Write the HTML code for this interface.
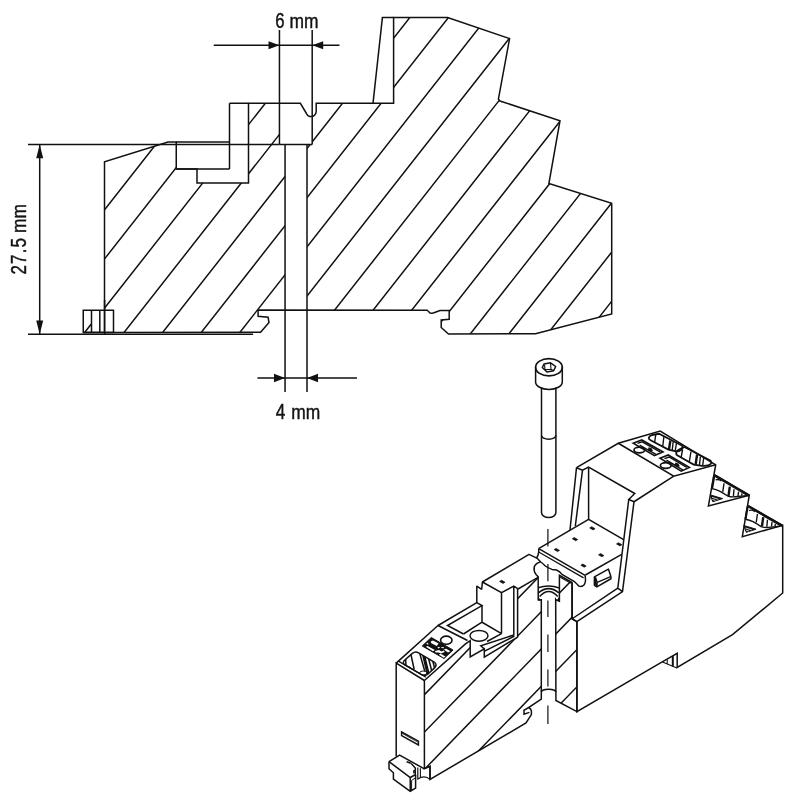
<!DOCTYPE html>
<html><head><meta charset="utf-8"><style>
html,body{margin:0;padding:0;background:#fff;}
svg{display:block}
.l{fill:none;stroke:#111;stroke-width:1.5;stroke-linejoin:miter;stroke-linecap:butt}
.w{fill:#fff;stroke:#111;stroke-width:1.4;stroke-linejoin:round}
.t{font-family:"Liberation Sans",sans-serif;font-size:20px;fill:#111;stroke:#111;stroke-width:.45;}
.d{font-size:22px}
</style></head><body>
<svg width="800" height="800" viewBox="0 0 800 800">
<rect width="800" height="800" fill="#fff"/>

<defs><clipPath id="bc"><polygon points="104.5,332.5 104.5,161.75 168,142 176.25,142 176.25,169 197,169 197,183 248.5,183 248.5,103.3 300.4,103.3 306.7,114 308,115.6 309.6,116.4 311.3,116.6 313,116.3 314.6,115.2 315.8,113.4 316.2,111.5 316.2,103.3 393.6,103.3 393.6,17.6 447.6,17.6 509.6,38.6 498.4,99 500,101 560,120.7 548.9,183.5 611.7,203.2 611.7,314 535.5,333.8 448.5,334 441.2,327.5 441.2,320 449.2,319.2 449.2,310.5 440,310.5 434,312.8 432,313.3 430,313 428.5,311.5 427.2,310.3 258.1,310 258.1,316.25 268.1,317.25 269,322.5 260.6,332.3"/></clipPath></defs>
<g clip-path="url(#bc)"><path d="M-46.10 352.50L230.59 0.00M-7.50 352.50L269.19 0.00M31.10 352.50L307.79 0.00M69.70 352.50L346.39 0.00M108.30 352.50L384.99 0.00M146.90 352.50L423.59 0.00M185.50 352.50L462.19 0.00M224.10 352.50L500.79 0.00M262.70 352.50L539.39 0.00M301.30 352.50L577.99 0.00M339.90 352.50L616.59 0.00M378.50 352.50L655.19 0.00M417.10 352.50L693.79 0.00M455.70 352.50L732.39 0.00M494.30 352.50L770.99 0.00M532.90 352.50L809.59 0.00M571.50 352.50L848.19 0.00M610.10 352.50L886.79 0.00M648.70 352.50L925.39 0.00M687.30 352.50L963.99 0.00" class="l"/></g>
<!-- white overlays -->
<rect x="279.45" y="104.2" width="32.75" height="40.2" fill="#fff"/>
<rect x="285.05" y="144" width="22.15" height="170" fill="#fff"/>
<!-- outline -->
<polygon points="104.5,332.5 104.5,161.75 168,142 176.25,142 176.25,169 197,169 197,183 248.5,183 248.5,103.3 300.4,103.3 306.7,114 308,115.6 309.6,116.4 311.3,116.6 313,116.3 314.6,115.2 315.8,113.4 316.2,111.5 316.2,103.3 393.6,103.3 393.6,17.6 447.6,17.6 509.6,38.6 498.4,99 500,101 560,120.7 548.9,183.5 611.7,203.2 611.7,314 535.5,333.8 448.5,334 441.2,327.5 441.2,320 449.2,319.2 449.2,310.5 440,310.5 434,312.8 432,313.3 430,313 428.5,311.5 427.2,310.3 258.1,310 258.1,316.25 268.1,317.25 269,322.5 260.6,332.3" class="l"/>
<!-- step pieces -->
<path d="M229.5 103.3H248.5M229.5 103.3V169M176.25 169H229.5M176.25 142H229.5" class="l"/>
<!-- wall -->
<path d="M393.6 17.6H382.4L373 103.3" class="l"/>
<!-- ext lines 6mm -->
<path d="M279.45 30V144.4M312.2 30V144.4M279.45 144.4H312.2" class="l"/>
<path d="M213.75 45.25H339.5" class="l"/>
<path d="M279.45 45.25L268.5 41.2V49.3ZM312.2 45.25L323.2 41.2V49.3Z" fill="#111"/>
<!-- hole lines -->
<path d="M285.05 144.4V392M307.0 144.4V392" class="l"/>
<!-- 4mm dim -->
<path d="M257.4 378H357" class="l"/>
<path d="M285.05 378L274 373.8V382.2ZM307 378L318 373.8V382.2Z" fill="#111"/>
<!-- 27.5 dim -->
<path d="M28 144.4H279.45M28 334.25H253.1" class="l"/>
<path d="M39.7 144.4V334.25" class="l"/>
<path d="M39.7 144.4L36.2 158.2H43.2ZM39.7 334.25L36.2 320.5H43.2Z" fill="#111"/>
<!-- small rect -->
<rect x="83.25" y="310.25" width="30.25" height="22.2" fill="#fff" class="l"/>
<path d="M91.5 310.25V332.4M99.8 310.25V332.4M104.6 300V334.25M85 332L91.5 323.7" class="l"/>
<path d="M83.25 332.45H104.5" class="l"/>
<g opacity="0.99">
<text transform="translate(275.2,27.7) scale(0.76,1)" class="t d">6</text>
<text transform="translate(289.6,27.7) scale(0.87,1)" class="t">mm</text>
<text transform="translate(275.8,418.6) scale(0.78,1)" class="t d">4</text>
<text transform="translate(291.3,418.6) scale(0.87,1)" class="t">mm</text>
<text transform="translate(26.1,274.5) rotate(-90) scale(0.77,1)" class="t d" style="letter-spacing:1.5px">27.5</text>
<text transform="translate(26.1,233) rotate(-90) scale(0.87,1)" class="t">mm</text>
</g>


<!-- ============ ISO SECTION ============ -->
<defs><clipPath id="ic"><polygon points="424.4,680.5 465.5,643.9 470.2,640.7 470.2,656.9 484.3,648.8 484.3,657.2 517.6,637.1 517.6,589.3 538.2,577.2 538.2,599.8 541.3,599.7 541.3,699.0 528.6,707.6 530.4,708.8 531.4,711.0 531.4,714.6 526.0,723.0 430.0,779.4 430.0,766.3 424.4,768.6"/><polygon points="555.7,599.5 555.9,599.8 559.4,601.2 559.4,575.4 572.0,582.5 572.0,618.8 576.9,621.6 576.9,711.6 555.9,700.5"/></clipPath></defs>
<g clip-path="url(#ic)"><path d="M400 719.9L620 493.3M400 757.2L620 530.6M400 794.5L620 567.9M400 831.8L620 605.2M400 869.1L620 642.5M400 906.4L620 679.8M400 943.7L620 717.1M400 981.0L620 754.4" class="l"/></g>
<polygon points="424.4,680.5 465.5,643.9 470.2,640.7 470.2,656.9 484.3,648.8 484.3,657.2 517.6,637.1 517.6,589.3 538.2,577.2 538.2,599.8 541.3,599.7 541.3,699.0 528.6,707.6 530.4,708.8 531.4,711.0 531.4,714.6 526.0,723.0 430.0,779.4 430.0,766.3 424.4,768.6" class="l"/>
<polygon points="555.7,599.5 555.9,599.8 559.4,601.2 559.4,575.4 572.0,582.5 572.0,618.8 576.9,621.6 576.9,711.6 555.9,700.5" class="l"/>
<path d="M528.6 707.6L524 710.3V714.2L529.4 712.4" class="l"/>
<!-- ============ SCREW ============ -->
<g id="screw">
<path d="M535.6 367.3V382A13.35 7.4 0 0 0 562.3 382V367.3" class="l"/>
<ellipse cx="548.95" cy="367.25" rx="13.35" ry="8.7" class="l" style="stroke-width:1.7"/>
<path d="M542.3 367.5L544 364L550.5 362.8L555.7 366.5L553.5 370.8L547 372Z" class="l" style="stroke-width:1.5;stroke-linejoin:round"/>
<path d="M550.5 363L551 369.2L545 369.6M551 369.2L553.5 370.8M544.6 364.6L544.9 369.6" class="l" style="stroke-width:1.1"/>
<path d="M541.5 387.6V512.5A7.2 5 0 0 0 555.9 512.5V387.6" class="l"/>
<path d="M541.5 435.6A7.2 3.6 0 0 0 555.9 435.6" class="l"/>
</g>
<!-- centerline -->
<path d="M547.9 529V546.5M547.9 564V581.2M547.9 600.5V617M547.9 634.5V652M547.9 669.5V686.5M547.9 705.5V724" class="l" style="stroke-width:1.2"/>

<!-- ============ BIG HOUSING ============ -->
<g id="housing">
<path d="M576.5 467.7L618.3 443.25L660.2 431.1L715.7 464.75L708.4 505.9L749.3 495.2L742.3 536.6L782.7 525.4V593L732.5 634.6L677.2 667.5V653.4L662.2 661.9L576.9 711.6V621.6" class="l"/>
<path d="M618.3 443.25L673.75 476.2L715.7 464.75M673.75 476.2L634 501.75" class="l"/>
<path d="M576.5 467.7L582.5 470.25L588.6 467L634.75 493.5L628.75 499.5L634 501.75" class="l"/>
<path d="M576.5 467.7L570 530M582.5 470.25L575.3 526M588.6 467V519.3" class="l"/>
<path d="M628.75 499.5L617.8 588.1L572.2 618.75L576.9 621.6L622.5 591.6L634 501.75M617.8 588.1L622.5 591.6" class="l" style="stroke-linejoin:round"/>
<path d="M572.2 618.75V583" class="l"/>
<!-- step triangles -->
<path d="M714.1 474.6L749.3 495.2M747.8 505.6L782.7 525.4" class="l"/>
</g>
<!-- ============ PLATE / INNER BLOCK ============ -->
<g id="plate">
<!-- plate left edge, back edge -->
<path d="M538.6 548.6L588.6 519.3L623.6 539.6" class="l"/>
<!-- plate front edge w/ bead -->
<path d="M538.7 548.7L585.1 575.4" class="l"/>
<path d="M538.7 548.7V552Q538.4 555.6 536.4 558.2" class="l"/>
<path d="M538.7 552L583.6 577.9" class="l" style="stroke-width:1.3"/>
<path d="M537.6 558.8L540.5 561.75Q543 563.5 545 565.75Q548 568 552 569.4L556.5 570Q560 571.4 562 574.4L574 581.25Q576.5 583.4 578.5 585.8Q581.5 587.6 584.2 584.8Q585.8 582 585.5 579.5L585.1 575.4" class="l"/>
<path d="M560.2 577.3L571 583.2" class="l" style="stroke-width:1.2"/>
<!-- block front top edge -->
<path d="M585.4 575L621.7 554.3" class="l"/>
<!-- dots -->
<path d="M589.7 527.9l2-1.2 3.4 2-2 1.2zM572.3 538.8l2-1.2 3.4 2-2 1.2zM554.1 549.6l2-1.2 3.4 2-2 1.2zM616.5 543.9l2-1.2 3.4 2-2 1.2zM598.5 554.8l2-1.2 3.4 2-2 1.2zM580.8 565.2l2-1.2 3.4 2-2 1.2zM499.6 581.4l2-1.2 3.4 2-2 1.2z" fill="#111" stroke="#111" stroke-width=".7" stroke-linejoin="round"/>
<!-- clip window -->
<path d="M594.4 576.9L608.4 569.1L610.9 576.6V578.75L596.9 586.9L594.4 585.3Z" class="l" style="stroke-linejoin:round"/>
<path d="M597.2 582.4L610.6 576.6M595.6 577.4L597.2 582.4L596.9 586.4" class="l" style="stroke-width:1.3"/>
<path d="M594.8 577.4L596.4 586" class="l" style="stroke-width:2"/>
</g>
<!-- ============ LEFT UNIT 3D ============ -->
<g id="leftunit">
<path d="M396.2 756.6V663.1L424.4 680.5" class="l"/>
<path d="M396.2 663.1L438 625.5L476.8 602.6V586.1L481.7 589.3L482.4 582L529 554.4L537.8 558.6" class="l" style="stroke-linejoin:bevel"/>
<!-- block -->
<path d="M482.4 582L501.5 592.6L513.8 586.1L517.6 588.6M501.5 592.6V633.6M513.8 586.1V635.6M482 605.6V622.2L501.5 633.6M482 622.2L463.5 634" class="l"/>
<!-- shelf -->
<path d="M476.8 602.6L482 605.6L447.5 625.5L463.5 634M438 625.5L467.5 640.5M501.5 633.6L487 641.5" class="l"/>
<!-- cylinder pin -->
<ellipse cx="479" cy="635.8" rx="9" ry="5.4" class="l"/>
<path d="M484.1 648.8L480.75 645.9L513.75 635M484.6 651.2L514.5 636.1" class="l"/>
</g>
<!-- ============ COUNTERBORE / GROOVE ============ -->
<g id="cbore">
<path d="M540.5 561.9Q536 562.8 534.3 566.6Q533.4 571 536 574.4L538.2 576.8" class="l"/>
<path d="M538.2 587.8Q548.7 584.2 559.4 588" class="l"/>
<path d="M538.4 592.8Q548.7 584.4 558.8 592.8M539.6 596.6Q548.7 586.4 557.8 596.6" class="l"/>
<path d="M538.2 596.5L541 600.8H538.2ZM559.4 596.5L556.6 600.8H559.4Z" fill="#111"/>
<path d="M541.3 692A7.3 2.8 0 0 1 555.9 692" class="l"/>
</g>
<!-- ============ LEFT UNIT TOP DETAILS ============ -->
<g id="lefttop">
<!-- inner border of top face -->
<path d="M398.4 661.1L426 677.2" class="l" style="stroke-width:1.3"/>
<!-- oval hatched hole -->
<defs><clipPath id="ov"><path d="M404.5 660.2L412.4 653.4Q415.3 651 418.6 652.9L434.2 662.2Q437.6 664.6 434.8 667.6L428 674Q425 676.6 421.6 674.6L404.9 664.9Q402 662.6 404.5 660.2Z"/></clipPath></defs>
<g clip-path="url(#ov)">
<path d="M405.6 657.5L406 666M410.6 653L414.2 669.5M419.2 651.5L425 672M424.6 656L429 674M428.6 658.5L431.6 670.5M432.6 660.5L434.6 668" class="l" style="stroke-width:1.5"/>
<path d="M422.9 654L427.6 674" class="l" style="stroke-width:2.2"/>
<ellipse cx="423.2" cy="673" rx="3.6" ry="2" fill="#fff" stroke="#111" stroke-width="1"/>
<path d="M403 664.5Q410 666 415 671.5" class="l" style="stroke-width:1"/>
</g>
<path d="M404.5 660.2L412.4 653.4Q415.3 651 418.6 652.9L434.2 662.2Q437.6 664.6 434.8 667.6L428 674Q425 676.6 421.6 674.6L404.9 664.9Q402 662.6 404.5 660.2Z" class="l"/>
<!-- terminal symbol -->
<path d="M422.25 646L431.25 637.5L453 650L444 658.5Z" fill="#111" stroke="#111" stroke-width="1" stroke-linejoin="round"/>
<g fill="#fff">
<path d="M430.6 641.6L433 640.4L438.6 643.6L436.8 646L431.4 643.2z"/>
<path d="M426.2 643.6L428.2 642.8L428.2 645z"/>
<path d="M425.8 646.8L427.6 646L434.8 650L433 651.3z"/>
<path d="M435 651L439 650L441.5 651.5L444 650.6L444.6 652L441 653.6L438.6 652.6L435.6 652.6z"/>
<path d="M443.8 649.6L446.2 648.8L450.4 651.2L448 652.6z"/>
<path d="M438.8 654.6L440.8 653.8L445.4 656.4L443.6 657.8z"/>
<path d="M437.4 647.4l1.6-.6 1 .8-1.4 1z M441.4 647l2.6.2-.2 1-2.4-.2z"/>
</g>
<ellipse cx="446.3" cy="640.2" rx="5.7" ry="4.1" class="l" style="stroke-width:1.6;fill:#fff"/>
<!-- slot on left face -->
<path d="M401.6 732L418.4 741.2V745L401.6 735.6Z" class="l"/>
<path d="M402.6 733.6L417.6 742" class="l" style="stroke-width:.8"/>
</g>
<!-- ============ FOOT / BRACKET ============ -->
<g id="foot">
<path d="M389 761.6L399.6 755L424 768.75L430 766.3V779.4" class="l"/>
<path d="M389 761.6L410.25 777.5L415.3 774.7V768.1L411.2 763.6" class="l"/>
<path d="M389 761.6V768.75L393.4 772.8V779L410.25 791.25L415.6 788.1V774.7M410.25 777.5V791.25" class="l"/>
<path d="M411.6 780.4L415.2 778M411.6 780.4V790" class="l" style="stroke-width:1"/>
<path d="M406.6 761.8l4.4 1.4M414.6 770q-1.4 1.6-.2 3.2" class="l" style="stroke-width:1.6"/>
<path d="M417.8 767.5V779Q424.5 774.6 430 779.4" class="l" style="stroke-width:1.2"/><path d="M420.4 768.2V777.4" class="l" style="stroke-width:1.1"/>
</g>
<!-- ============ TERMINAL BLOCK TOP ============ -->
<g id="term">
<!-- hole 1 -->
<defs>
<clipPath id="h1"><path d="M648.8 437.8Q649.4 435.8 652 435L659 433.8L682.3 445.8Q683.4 448 681 450Q678 452 675 451.2L668.4 449.6L650.6 440.2Q648.6 439.2 648.8 437.8Z"/></clipPath>
<clipPath id="h2"><path d="M676.2 453Q676.4 450.6 679.5 449.2Q682 448 684.5 447L710.6 460.8Q712.4 463 709.5 464.8Q706 466.2 702 465.8L693.7 464.6L677.6 455.6Q676 454.6 676.2 453Z"/></clipPath>
</defs>
<g clip-path="url(#h1)"><path d="M655.8 434L654.6 443M663.9 436.5L662.7 447M673.2 441.5L672.1 451.5M676.5 443L675 452" class="l" style="stroke-width:1.4"/><path d="M670.4 440.5L668.8 450.5" class="l" style="stroke-width:2.4"/></g>
<path d="M648.8 437.8Q649.4 435.8 652 435L659 433.8L682.3 445.8Q683.4 448 681 450Q678 452 675 451.2L668.4 449.6L650.6 440.2Q648.6 439.2 648.8 437.8Z" class="l" style="stroke-width:1.8"/>
<g clip-path="url(#h2)"><path d="M682.6 449.5L681 458M691 451.5L689 463.5M700.4 456.5L699.3 466.5M703.7 458L702.5 466.5" class="l" style="stroke-width:1.4"/><path d="M697.1 454.5L695.5 465.5" class="l" style="stroke-width:2.4"/></g>
<path d="M676.2 453Q676.4 450.6 679.5 449.2Q682 448 684.5 447L710.6 460.8Q712.4 463 709.5 464.8Q706 466.2 702 465.8L693.7 464.6L677.6 455.6Q676 454.6 676.2 453Z" class="l" style="stroke-width:1.8"/>
<!-- symbols -->
<path d="M633.2 443.2L641.8 440L663 452L654.4 455.6Z" class="l" style="stroke-width:1.6"/>
<path d="M637.5 443.4L642.2 441.8L652 447.4M642 446.6L656 454.4M652 447.4L660 452M639.6 445L650 451" class="l" style="stroke-width:1.4"/>
<path d="M648.6 447.2l3 1 1.4 2.6-2.6 1-2.6-1.6z" fill="#111"/>
<ellipse cx="639.4" cy="450" rx="5.4" ry="2.8" class="l" style="stroke-width:1.7"/>
<path d="M660 458.2L668.2 455L689.4 467.4L681.2 471.2Z" class="l" style="stroke-width:1.6"/>
<path d="M664.4 458.6L669 457L678.8 462.6M668.8 461.8L682.8 469.8M678.8 462.6L686.8 467.4M666.4 460.2L676.8 466.2" class="l" style="stroke-width:1.4"/>
<path d="M675.4 462.6l3 1 1.4 2.6-2.6 1-2.6-1.6z" fill="#111"/>
<ellipse cx="665.8" cy="465.5" rx="5.4" ry="2.8" class="l" style="stroke-width:1.7"/>
</g>
<!-- ============ STEP TRIANGLES ============ -->
<g id="steps">
<g id="tri">
<path d="M714.6 475.4L748.6 495.3" class="l" style="stroke-width:2.6"/>
<path d="M714.2 476L712 488.8" class="l" style="stroke-width:2.2"/>
<path d="M715.6 480Q718 478.6 721.4 481" class="l" style="stroke-width:1.3"/>
<path d="M724 483.4L722.75 491.9M734 489.2L733.4 496.2M738.6 491.6L738 496M742 493.4L741.6 495.6" class="l" style="stroke-width:1.4"/>
<path d="M729.8 486.6L728.5 495.8" class="l" style="stroke-width:2.4"/>
<path d="M712 488.6Q716 489.4 719.6 491.1Q724 493.6 727.75 496Q731 497.2 735.25 496.8L746.6 495.6" class="l" style="stroke-width:1.4"/>
<path d="M710.3 494.9L722.6 498.6L712.8 501.7Z" fill="#111" stroke="#111" stroke-width="1" stroke-linejoin="round"/>
<path d="M712 497.4L718.4 499.3M712.4 499.5L715.6 500.4" stroke="#fff" stroke-width=".8" fill="none"/>
</g>
<g transform="translate(33.45,30.6)">
<path d="M714.6 475.4L748.6 495.3" class="l" style="stroke-width:2.6"/>
<path d="M714.2 476L712 488.8" class="l" style="stroke-width:2.2"/>
<path d="M715.6 480Q718 478.6 721.4 481" class="l" style="stroke-width:1.3"/>
<path d="M724 483.4L722.75 491.9M734 489.2L733.4 496.2M738.6 491.6L738 496M742 493.4L741.6 495.6" class="l" style="stroke-width:1.4"/>
<path d="M729.8 486.6L728.5 495.8" class="l" style="stroke-width:2.4"/>
<path d="M712 488.6Q716 489.4 719.6 491.1Q724 493.6 727.75 496Q731 497.2 735.25 496.8L746.6 495.6" class="l" style="stroke-width:1.4"/>
<path d="M710.3 494.9L722.6 498.6L712.8 501.7Z" fill="#111" stroke="#111" stroke-width="1" stroke-linejoin="round"/>
<path d="M712 497.4L718.4 499.3M712.4 499.5L715.6 500.4" stroke="#fff" stroke-width=".8" fill="none"/>
</g>
</g>
<path d="M662.5 661.9L676.9 668.1M667.2 659.3V664" class="l" style="stroke-width:1.1"/>
<path d="M672.8 656V666.4" class="l" style="stroke-width:2"/>

</svg></body></html>
